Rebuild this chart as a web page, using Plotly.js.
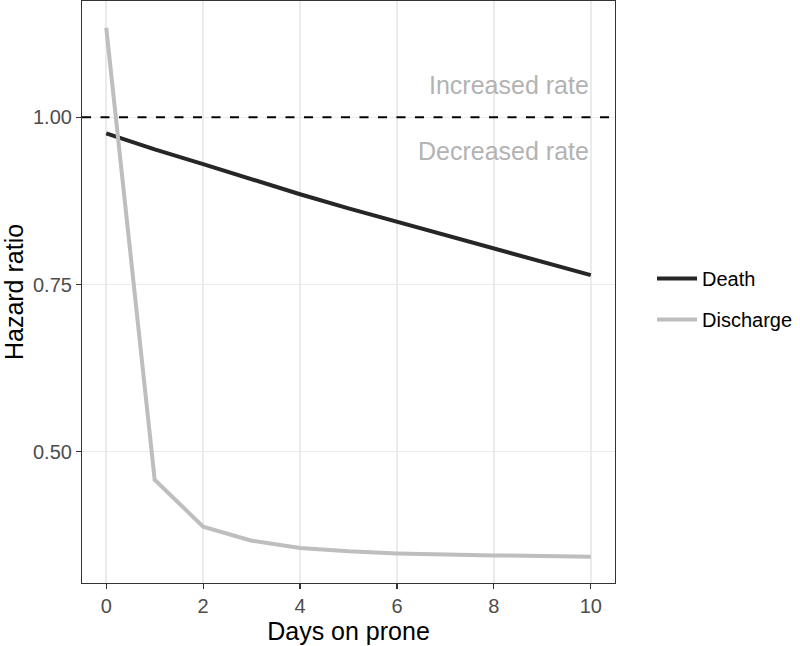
<!DOCTYPE html>
<html>
<head>
<meta charset="utf-8">
<script src="https://cdn.plot.ly/plotly-3.0.1.min.js"></script>
<style>html,body{margin:0;padding:0;background:#fff;}#chart{width:800px;height:646px;}</style>
</head>
<body>
<div id="chart"></div>
<script>
const days = [0, 1, 2, 3, 4, 5, 6, 7, 8, 9, 10];
const deathHR = [0.976, 0.952, 0.930, 0.907, 0.885, 0.864, 0.844, 0.823, 0.803, 0.783, 0.764];
const dischargeHR = [1.134, 0.458, 0.388, 0.367, 0.356, 0.351, 0.348, 0.346, 0.345, 0.344, 0.343];
const xTicks = [0, 2, 4, 6, 8, 10];
const yTicks = [0.5, 0.75, 1.0];
const yTickLabels = ["0.50", "0.75", "1.00"];
const refLine = 1.0;
const labelAbove = "Increased rate";
const labelBelow = "Decreased rate";

const FONT = "Liberation Sans, Arial, Helvetica, sans-serif";

const traces = [
  {x: days, y: deathHR, type: "scatter", mode: "lines", name: "Death",
   legendgroup: "a", line: {color: "#262626", width: 4}},
  {x: days, y: dischargeHR, type: "scatter", mode: "lines", name: "Discharge",
   legendgroup: "b", line: {color: "#bebebe", width: 4}}
];

const layout = {
  width: 800, height: 646,
  margin: {l: 82, r: 185, t: 1, b: 63},
  paper_bgcolor: "#ffffff", plot_bgcolor: "#ffffff",
  font: {family: FONT, color: "#000"},
  showlegend: true,
  legend: {xref: "container", x: 0.815, y: 0.488, yanchor: "middle", xanchor: "left",
           font: {size: 20, color: "#000", family: FONT}, tracegroupgap: 12,
           traceorder: "grouped", bgcolor: "rgba(0,0,0,0)", itemwidth: 40},
  xaxis: {range: [-0.5, 10.5], tickvals: xTicks, ticks: "outside", ticklen: 5,
          tickwidth: 1.1, tickcolor: "#333", showline: true, mirror: true,
          linecolor: "#333", linewidth: 1.1, showgrid: true, gridcolor: "#ebebeb",
          gridwidth: 1.5, zeroline: false,
          tickfont: {size: 20, color: "#4d4d4d", family: FONT},
          title: {text: "Days on prone", font: {size: 25, color: "#000", family: FONT}, standoff: 6}},
  yaxis: {range: [0.3037, 1.174], tickvals: yTicks, ticktext: yTickLabels, ticks: "outside",
          ticklen: 5, tickwidth: 1.1, tickcolor: "#333", showline: true, mirror: true,
          linecolor: "#333", linewidth: 1.1, showgrid: true, gridcolor: "#ebebeb",
          gridwidth: 1.5, zeroline: false,
          tickfont: {size: 20, color: "#4d4d4d", family: FONT},
          title: {text: "Hazard ratio", font: {size: 25, color: "#000", family: FONT}, standoff: 11}},
  shapes: [{type: "line", xref: "paper", x0: 0, x1: 1, yref: "y", y0: refLine, y1: refLine,
            line: {color: "#000", width: 2, dash: "9px,9.5px"}, layer: "above"}],
  annotations: [
    {x: 10, y: 1.048, xref: "x", yref: "y", text: labelAbove, showarrow: false,
     xanchor: "right", yanchor: "middle", font: {size: 25, color: "#b3b3b3", family: FONT}},
    {x: 10, y: 0.950, xref: "x", yref: "y", text: labelBelow, showarrow: false,
     xanchor: "right", yanchor: "middle", font: {size: 25, color: "#b3b3b3", family: FONT}}
  ]
};

Plotly.newPlot("chart", traces, layout, {displayModeBar: false, staticPlot: true});
</script>
</body>
</html>
